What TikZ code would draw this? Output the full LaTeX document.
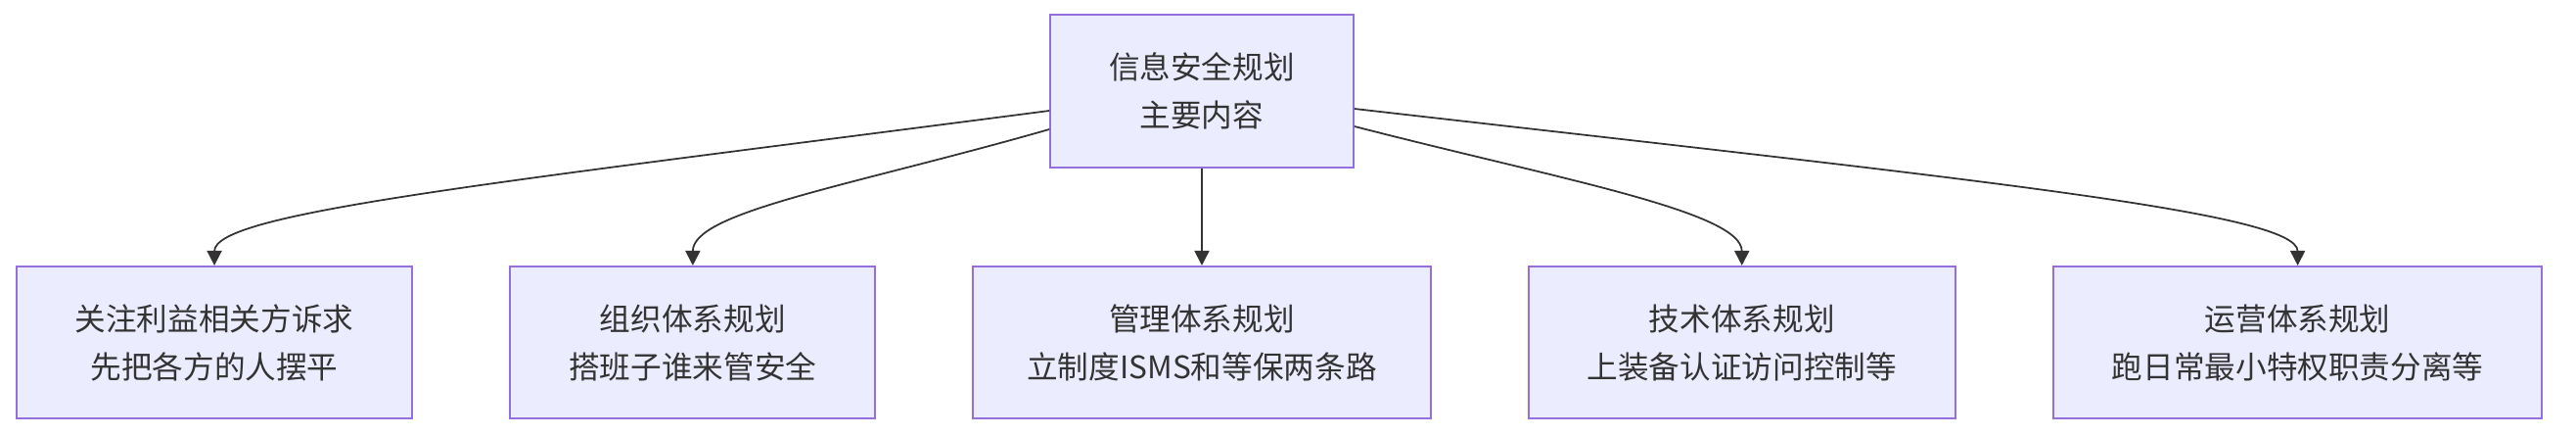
\documentclass[tikz,border=0pt]{standalone}
\usepackage{fontspec}
\setmainfont{Noto Sans CJK SC}
\usepackage{tikz}
\usetikzlibrary{arrows.meta, positioning}
\definecolor{boxfill}{HTML}{ECECFF}
\definecolor{boxline}{HTML}{9370DB}
\definecolor{inkgray}{HTML}{333333}

\begin{document}
\begin{tikzpicture}[node distance=0.98cm,
            box/.style={draw=boxline, fill=boxfill, line width=0.55pt, rectangle, minimum height=1.555cm, inner xsep=0.6cm, text=inkgray, font=\fontsize{9}{13.9}\selectfont, align=center},
            link/.style={->, draw=inkgray, line width=0.5pt},
            >={Triangle[width=0.15cm, length=0.15cm]}]
          \useasboundingbox (-12.28,0.93) rectangle (14.04,-3.51);
          \node[box, minimum height=1.56cm] (main) {信息安全规划\\主要内容};
          \node[box, inner xsep=0.55cm, below=0.99cm of main] (mgmt) {管理体系规划\\立制度ISMS和等保两条路};
          \node[box, left=of mgmt] (org) {组织体系规划\\搭班子谁来管安全};
          \node[box, left=of org] (stake) {关注利益相关方诉求\\先把各方的人摆平};
          \node[box, right=of mgmt] (tech) {技术体系规划\\上装备认证访问控制等};
          \node[box, right=of tech] (ops) {运营体系规划\\跑日常最小特权职责分离等};
          \draw[link] ([yshift=-0.20cm]main.west) .. controls +(-5.73,-0.745) and +(0,0.54) .. (stake.north);
          \draw[link] ([yshift=-0.39cm]main.west) .. controls +(-2.03,-0.58) and +(0,0.55) .. (org.north);
          \draw[link] (main) -- (mgmt);
          \draw[link] ([yshift=-0.36cm]main.east) .. controls +(2.10,-0.54) and +(0,0.55) .. (tech.north);
          \draw[link] ([yshift=-0.18cm]main.east) .. controls +(6.40,-0.73) and +(0,0.54) .. (ops.north);
        \end{tikzpicture}
\end{document}
